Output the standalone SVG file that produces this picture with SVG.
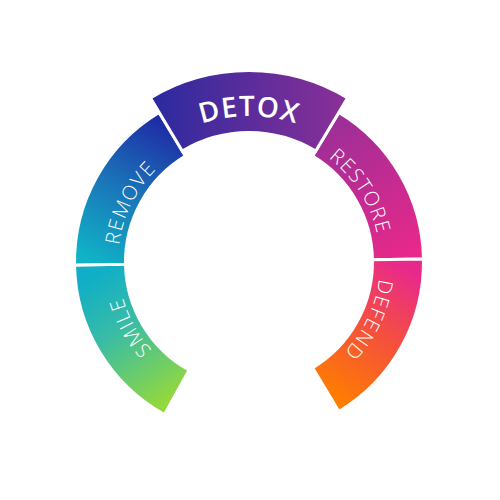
<svg xmlns="http://www.w3.org/2000/svg" width="500" height="500" viewBox="0 0 500 500">
  <style>
    .seg { stroke: #ffffff; stroke-width: 3; stroke-linejoin: miter; }
    .lbl { fill: #ffffff; font-family: "Open Sans", "Lato", "Liberation Sans", sans-serif; font-weight: 300; font-size: 20px; letter-spacing: 1.5px; }
    .main { fill: #ffffff; font-family: "Open Sans", "Liberation Sans", sans-serif; font-weight: 600; font-size: 28px; letter-spacing: 1px; }
  </style>
  <defs>
    <linearGradient id="gSmile" gradientUnits="userSpaceOnUse" x1="95" y1="275" x2="175" y2="395">
      <stop offset="0" stop-color="#10AEC7"/>
      <stop offset="0.4" stop-color="#38BCA6"/>
      <stop offset="1" stop-color="#92D83E"/>
    </linearGradient>
    <linearGradient id="gRemove" gradientUnits="userSpaceOnUse" x1="95" y1="262" x2="170" y2="125">
      <stop offset="0" stop-color="#10B2C6"/>
      <stop offset="0.5" stop-color="#1A74B9"/>
      <stop offset="1" stop-color="#1E2BA5"/>
    </linearGradient>
    <linearGradient id="gDetox" gradientUnits="userSpaceOnUse" x1="151" y1="0" x2="347" y2="0">
      <stop offset="0" stop-color="#2A2A9F"/>
      <stop offset="1" stop-color="#8C2F97"/>
    </linearGradient>
    <linearGradient id="gRestore" gradientUnits="userSpaceOnUse" x1="330" y1="120" x2="415" y2="255">
      <stop offset="0" stop-color="#9A2F98"/>
      <stop offset="1" stop-color="#EA288A"/>
    </linearGradient>
    <linearGradient id="gDefend" gradientUnits="userSpaceOnUse" x1="410" y1="270" x2="330" y2="395">
      <stop offset="0" stop-color="#E8298C"/>
      <stop offset="0.5" stop-color="#F5523A"/>
      <stop offset="1" stop-color="#FF7D00"/>
    </linearGradient>
    <path id="tSmile" d="M268.81,391.49 A131,131 0 0 1 150.57,175.55"/>
    <path id="tRemove" d="M154.13,352.34 A131,131 0 0 1 263.60,131.82"/>
    <path id="tDetox" d="M111.80,212.06 A146,146 0 0 1 386.20,212.06"/>
    <path id="tRestore" d="M221.09,134.00 A131,131 0 0 1 352.65,342.11"/>
    <path id="tDefend" d="M342.76,170.51 A131,131 0 0 1 235.99,392.35"/>
  </defs>

  <g id="smile">
    <path class="seg" fill="url(#gSmile)" d="M164.40,414.62 A174.5,174.5 0 0 1 74.53,265.05 L125.52,264.16 A123.5,123.5 0 0 0 189.13,370.02 Z"/>
    <text class="lbl"><textPath href="#tSmile" startOffset="50%" text-anchor="middle">SMILE</textPath></text>
  </g>
  <g id="remove">
    <path class="seg" fill="url(#gRemove)" d="M74.53,265.05 A174.5,174.5 0 0 1 159.13,112.42 L185.39,156.14 A123.5,123.5 0 0 0 125.52,264.16 Z"/>
    <text class="lbl"><textPath href="#tRemove" startOffset="50%" text-anchor="middle">REMOVE</textPath></text>
  </g>
  <g id="restore">
    <path class="seg" fill="url(#gRestore)" d="M338.87,112.42 A174.5,174.5 0 0 1 423.47,258.95 L372.48,259.84 A123.5,123.5 0 0 0 312.61,156.14 Z"/>
    <text class="lbl"><textPath href="#tRestore" startOffset="50%" text-anchor="middle">RESTORE</textPath></text>
  </g>
  <g id="defend">
    <path class="seg" fill="url(#gDefend)" d="M423.47,258.95 A174.5,174.5 0 0 1 338.87,411.58 L312.61,367.86 A123.5,123.5 0 0 0 372.48,259.84 Z"/>
    <text class="lbl"><textPath href="#tDefend" startOffset="50%" text-anchor="middle">DEFEND</textPath></text>
  </g>
  <g id="detox">
    <path class="seg" fill="url(#gDetox)" d="M150.37,97.85 A191.5,191.5 0 0 1 347.63,97.85 L315.70,151.00 A129.5,129.5 0 0 0 182.30,151.00 Z"/>
    <text class="main"><textPath href="#tDetox" startOffset="50%" text-anchor="middle">DETOX</textPath></text>
  </g>
  <g id="connectors"></g>
</svg>
